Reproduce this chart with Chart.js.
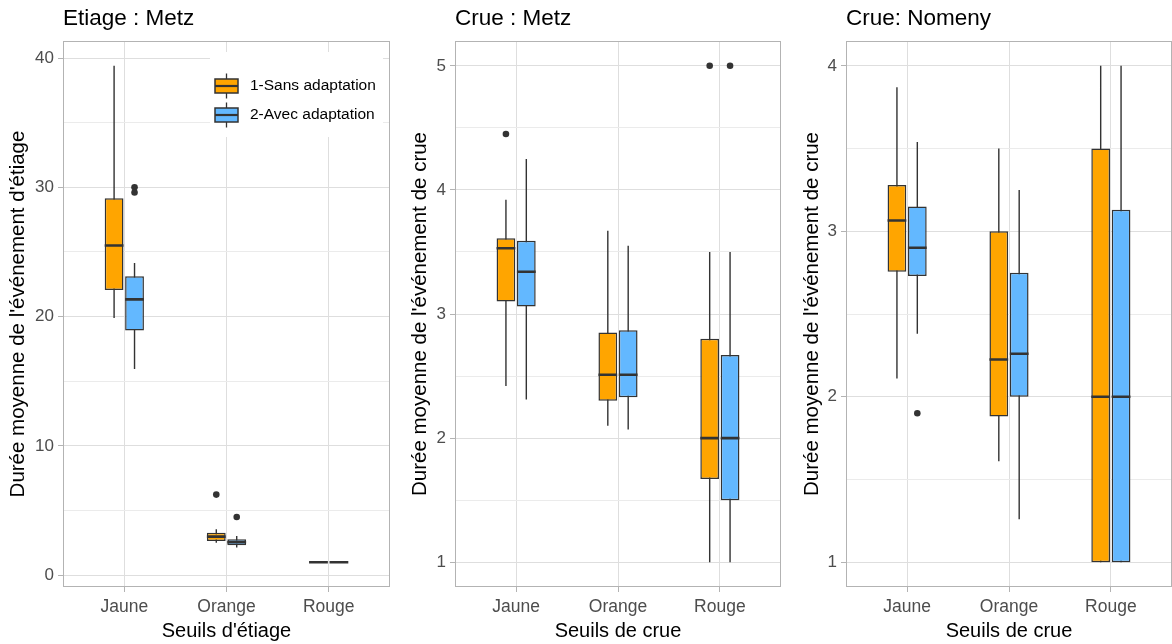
<!DOCTYPE html>
<html>
<head>
<meta charset="utf-8">
<script src="https://cdn.jsdelivr.net/npm/chart.js@4.4.0/dist/chart.umd.min.js"></script>
<style>
  html, body { margin: 0; padding: 0; background: #fff; overflow: hidden; }
  body { width: 1172px; height: 644px; position: relative; }
  .panel { position: absolute; top: 0; width: 394px; height: 644px; }
</style>
</head>
<body>
<div class="panel" style="left:0"><canvas id="etiageMetz" width="394" height="644"></canvas></div>
<div class="panel" style="left:391px"><canvas id="crueMetz" width="394" height="644"></canvas></div>
<div class="panel" style="left:782px"><canvas id="crueNomeny" width="394" height="644"></canvas></div>
<script>
// Seuils and scenarios
const categories = ['Jaune', 'Orange', 'Rouge'];
const groups = ['1-Sans adaptation', '2-Avec adaptation'];

// Box statistics per seuil: [whisker low, Q1, median, Q3, whisker high]
const etiageMetzSans = [[19.9, 22.05, 25.5, 29.15, 39.4], [2.51, 2.64, 2.98, 3.28, 3.54], [1, 1, 1, 1, 1]];
const etiageMetzAvec = [[15.95, 18.92, 21.33, 23.13, 24.15], [2.13, 2.31, 2.54, 2.77, 3.02], [1, 1, 1, 1, 1]];
const etiageMetzSansOut = [[], [6.23], []];
const etiageMetzAvecOut = [[30.0, 29.6], [4.5], []];
const etiageMetzTicks = [0, 10, 20, 30, 40];

const crueMetzSans = [[2.42, 3.10, 3.53, 3.61, 3.92], [2.10, 2.30, 2.51, 2.85, 3.67], [1.0, 1.67, 2.0, 2.80, 3.5]];
const crueMetzAvec = [[2.31, 3.06, 3.34, 3.59, 4.25], [2.07, 2.33, 2.51, 2.87, 3.55], [1.0, 1.5, 2.0, 2.67, 3.5]];
const crueMetzSansOut = [[4.45], [], [5]];
const crueMetzAvecOut = [[], [], [5]];
const crueMetzTicks = [1, 2, 3, 4, 5];

const crueNomenySans = [[2.11, 2.755, 3.065, 3.28, 3.87], [1.61, 1.88, 2.225, 3.0, 3.5], [1, 1, 2, 3.5, 4]];
const crueNomenyAvec = [[2.38, 2.73, 2.90, 3.15, 3.54], [1.26, 2.0, 2.26, 2.75, 3.25], [1, 1, 2, 3.13, 4]];
const crueNomenySansOut = [[], [], []];
const crueNomenyAvecOut = [[1.9], [], []];
const crueNomenyTicks = [1, 2, 3, 4];

const fillColors = ['#FFA500', '#63B8FF'];
const dodge = [-0.1, 0.1];
const halfBox = 0.092;
const ink = '#333333';

Chart.defaults.font.family = '"Liberation Sans", Arial, sans-serif';

// Grey frame around the plotting panel
const panelFrame = {
    id: 'panelFrame',
    afterDatasetsDraw(chart) {
        const a = chart.chartArea;
        const c = chart.ctx;
        c.save();
        c.strokeStyle = '#b3b3b3';
        c.lineWidth = 1;
        c.strokeRect(Math.round(a.left) + 0.5, Math.round(a.top) + 0.5,
            Math.round(a.right - a.left) - 1, Math.round(a.bottom - a.top) - 1);
        c.restore();
    }
};

// Legend with boxplot keys, placed inside the first panel
const boxLegend = {
    id: 'boxLegend',
    afterDatasetsDraw(chart) {
        const a = chart.chartArea;
        const c = chart.ctx;
        c.save();
        c.fillStyle = '#ffffff';
        c.fillRect(a.left + 147, a.top + 11, 173, 85);
        groups.forEach(function(label, g) {
            const cy = a.top + 45 + g * 29;
            const kx = a.left + 152;
            c.strokeStyle = ink;
            c.lineWidth = 1.3;
            c.beginPath();
            c.moveTo(kx + 11.5, cy - 12.5);
            c.lineTo(kx + 11.5, cy + 12.5);
            c.stroke();
            c.fillStyle = fillColors[g];
            c.fillRect(kx, cy - 7, 23, 14);
            c.lineWidth = 1.5;
            c.strokeRect(kx, cy - 7, 23, 14);
            c.lineWidth = 2.2;
            c.beginPath();
            c.moveTo(kx, cy);
            c.lineTo(kx + 23, cy);
            c.stroke();
            c.fillStyle = '#000';
            c.font = '15.5px "Liberation Sans", Arial, sans-serif';
            c.textBaseline = 'middle';
            c.fillText(label, a.left + 187, cy);
        });
        c.restore();
    }
};

function buildDatasets(statsByGroup, outByGroup) {
    const datasets = [];
    statsByGroup.forEach(function(stats, g) {
        const xs = stats.map((s, i) => i + 1 + dodge[g]);

        const whiskers = [];
        const medians = [];
        const outliers = [];
        stats.forEach(function(s, i) {
            whiskers.push({ x: xs[i], y: s[0] }, { x: xs[i], y: s[4] }, { x: xs[i], y: null });
            medians.push({ x: xs[i] - halfBox, y: s[2] }, { x: xs[i] + halfBox, y: s[2] }, { x: xs[i], y: null });
            outByGroup[g][i].forEach(v => outliers.push({ x: xs[i], y: v }));
        });

        datasets.push({
            type: 'line', data: whiskers, borderColor: ink, borderWidth: 1.4,
            pointRadius: 0, spanGaps: false, order: 3
        });
        datasets.push({
            type: 'bar', label: groups[g],
            data: stats.map((s, i) => ({ x: xs[i], y: [s[1], s[3]] })),
            backgroundColor: fillColors[g], borderColor: ink, borderWidth: 1.5,
            borderSkipped: false, grouped: false, categoryPercentage: 1, barPercentage: 0.92,
            order: 2
        });
        datasets.push({
            type: 'line', data: medians, borderColor: ink, borderWidth: 2.6,
            pointRadius: 0, spanGaps: false, order: 1
        });
        datasets.push({
            type: 'scatter', data: outliers, backgroundColor: ink, borderWidth: 0,
            pointRadius: 3.3, order: 0
        });
    });
    return datasets;
}

function boxChart(canvasId, spec) {
    const ctx = document.getElementById(canvasId).getContext('2d');

    // 5% expansion of the data range
    let lo = Infinity, hi = -Infinity;
    [spec.sans, spec.avec].forEach(st => st.forEach(s => { lo = Math.min(lo, s[0]); hi = Math.max(hi, s[4]); }));
    [spec.sansOut, spec.avecOut].forEach(o => o.forEach(list => list.forEach(v => { lo = Math.min(lo, v); hi = Math.max(hi, v); })));
    const pad = (hi - lo) * 0.05;

    // labelled ticks plus unlabelled minor ticks halfway between
    const majors = spec.ticks;
    const step = majors[1] - majors[0];
    const allTicks = [];
    majors.forEach(function(v, i) {
        allTicks.push(v);
        if (i < majors.length - 1) allTicks.push(v + step / 2);
    });
    const isMajor = v => majors.includes(v);

    new Chart(ctx, {
        type: 'scatter',
        data: { datasets: buildDatasets([spec.sans, spec.avec], [spec.sansOut, spec.avecOut]) },
        options: {
            responsive: false,
            animation: false,
            events: [],
            layout: { padding: { left: 0, right: 1, top: 0, bottom: 0 } },
            plugins: {
                legend: { display: false },
                tooltip: { enabled: false },
                title: {
                    display: true, text: spec.title, align: 'start', fullSize: false,
                    color: '#000', font: { size: 22.5, weight: 'normal' },
                    padding: { top: 5, bottom: 9 }
                }
            },
            scales: {
                x: {
                    type: 'linear', min: 0.4, max: 3.6, offset: false,
                    afterBuildTicks: s => { s.ticks = categories.map((c, i) => ({ value: i + 1 })); },
                    afterFit: s => { s.height = 57; },
                    ticks: {
                        callback: v => categories[v - 1], color: '#4d4d4d',
                        font: { size: 17.5 }, padding: 5, maxRotation: 0, autoSkip: false
                    },
                    grid: { offset: false, color: '#dedede', lineWidth: 1, tickLength: 5, tickColor: '#b3b3b3', tickWidth: 1 },
                    border: { display: false },
                    title: {
                        display: true, text: spec.xTitle, color: '#000',
                        font: { size: 20 }, padding: { top: 0, bottom: 1 }
                    }
                },
                y: {
                    type: 'linear', min: lo - pad, max: hi + pad, beginAtZero: false,
                    afterBuildTicks: s => { s.ticks = allTicks.map(v => ({ value: v })); },
                    afterFit: s => { s.width = spec.axisWidth; },
                    ticks: {
                        callback: v => isMajor(v) ? String(v) : '', color: '#4d4d4d',
                        font: { size: 17 }, padding: 4, autoSkip: false
                    },
                    grid: {
                        color: c => isMajor(c.tick.value) ? '#dedede' : '#ebebeb',
                        lineWidth: 1, tickLength: 5, tickWidth: 1,
                        tickColor: c => isMajor(c.tick.value) ? '#b3b3b3' : 'rgba(0,0,0,0)'
                    },
                    border: { display: false },
                    title: {
                        display: true, text: spec.yTitle, color: '#000',
                        font: { size: 20.5 }, padding: { top: spec.yTitlePad, bottom: 0 }
                    }
                }
            }
        },
        plugins: spec.withLegend ? [panelFrame, boxLegend] : [panelFrame]
    });
}

boxChart('etiageMetz', {
    title: 'Etiage : Metz',
    xTitle: "Seuils d'étiage",
    yTitle: "Durée moyenne de l'événement d'étiage",
    sans: etiageMetzSans, avec: etiageMetzAvec,
    sansOut: etiageMetzSansOut, avecOut: etiageMetzAvecOut,
    ticks: etiageMetzTicks, axisWidth: 63, yTitlePad: 6, withLegend: true
});

boxChart('crueMetz', {
    title: 'Crue : Metz',
    xTitle: 'Seuils de crue',
    yTitle: "Durée moyenne de l'événement de crue",
    sans: crueMetzSans, avec: crueMetzAvec,
    sansOut: crueMetzSansOut, avecOut: crueMetzAvecOut,
    ticks: crueMetzTicks, axisWidth: 64, yTitlePad: 17, withLegend: false
});

boxChart('crueNomeny', {
    title: 'Crue: Nomeny',
    xTitle: 'Seuils de crue',
    yTitle: "Durée moyenne de l'événement de crue",
    sans: crueNomenySans, avec: crueNomenyAvec,
    sansOut: crueNomenySansOut, avecOut: crueNomenyAvecOut,
    ticks: crueNomenyTicks, axisWidth: 64, yTitlePad: 18, withLegend: false
});
</script>
</body>
</html>
